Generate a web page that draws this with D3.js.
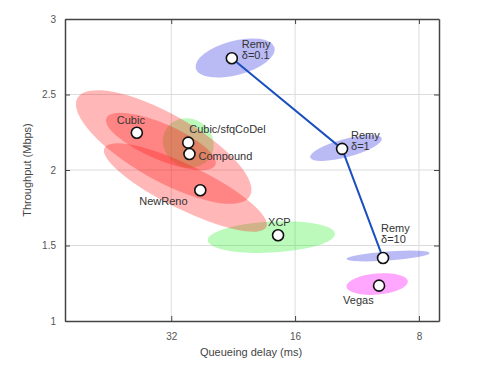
<!DOCTYPE html>
<html>
<head>
<meta charset="utf-8">
<script src="https://cdn.jsdelivr.net/npm/d3@7"></script>
<style>
  body { margin: 0; background: #fff; }
  svg { font-family: "Liberation Sans", Arial, sans-serif; }
</style>
</head>
<body>
<div id="plot"></div>
<script>
// Data
var schemes = ["Remy δ=0.1", "Remy δ=1", "Remy δ=10", "Vegas", "XCP", "NewReno", "Cubic", "Cubic/sfqCoDel", "Compound"];
var delays = [22.8, 12.3, 9.78, 10.0, 17.6, 27.2, 38.8, 29.1, 28.9];      // ms
var throughputs = [2.74, 2.14, 1.417, 1.234, 1.568, 1.866, 2.247, 2.181, 2.106]; // Mbps

var remyFrontier = ["Remy δ=0.1", "Remy δ=1", "Remy δ=10"];

// Ellipses: ends of the major axis (delay, throughput) and half minor axis in Mbps
var ellipseNames = ["Cubic/sfqCoDel", "XCP", "Remy δ=0.1", "Remy δ=1", "Remy δ=10", "Vegas", "Cubic (outer)", "Cubic", "NewReno"];
var ellipseFrom = [[32.8, 2.278], [26.1, 1.534], [27.9, 2.672], [14.7, 2.082], [12.0, 1.411], [12.0, 1.227], [54.1, 2.477], [46.0, 2.344], [46.5, 2.146]];
var ellipseTo = [[25.8, 2.080], [12.8, 1.578], [17.95, 2.812], [9.85, 2.209], [7.53, 1.450], [8.51, 1.263], [20.6, 1.828], [25.0, 2.033], [18.8, 1.622]];
var ellipseWidth = [0.159, 0.103, 0.113, 0.06, 0.03, 0.07, 0.219, 0.119, 0.146];
var ellipseGroup = ["green", "green", "blue", "blue", "blue", "magenta", "red", "red", "red"];

var xTicks = [32, 16, 8];
var yTicks = [1, 1.5, 2, 2.5, 3];

// label placement (pixels, relative to the point)
var labelOffset = {
  "Remy δ=0.1": [10, -10], "Remy δ=1": [9, -10], "Remy δ=10": [-2, -26],
  "Vegas": [-36, 18], "XCP": [-10, -9], "NewReno": [-61, 15],
  "Cubic": [-20, -9], "Cubic/sfqCoDel": [1, -10], "Compound": [9, 6]
};
var fills = { green: "#22ee22", blue: "#2828e0", magenta: "#ff00ff", red: "#ff1010" };
var fillOpacity = { green: 0.3, blue: 0.32, magenta: 0.35, red: 0.3 };

var margin = {top: 19, right: 61, bottom: 51, left: 65},
    width = 500 - margin.left - margin.right,
    height = 372 - margin.top - margin.bottom;

var svg = d3.select("#plot")
    .append("svg")
    .attr("width", 500)
    .attr("height", 372)
    .append("g")
    .attr("transform", "translate(" + margin.left + "," + margin.top + ")");

var x = d3.scaleLog()
    .domain([58, 7.15])
    .range([0, width]);
var y = d3.scaleLinear()
    .domain([1, 3])
    .range([height, 0]);

// grid
svg.append("g").selectAll("line")
    .data(xTicks)
    .enter().append("line")
    .attr("x1", function (d) { return x(d); })
    .attr("x2", function (d) { return x(d); })
    .attr("y1", 0).attr("y2", height)
    .style("stroke", "#dcdcdc");
svg.append("g").selectAll("line")
    .data(yTicks.slice(1, -1))
    .enter().append("line")
    .attr("y1", function (d) { return y(d); })
    .attr("y2", function (d) { return y(d); })
    .attr("x1", 0).attr("x2", width)
    .style("stroke", "#dcdcdc");

// ellipses
var ell = ellipseNames.map(function (n, i) {
  var x1 = x(ellipseFrom[i][0]), y1 = y(ellipseFrom[i][1]);
  var x2 = x(ellipseTo[i][0]), y2 = y(ellipseTo[i][1]);
  return {
    name: n, group: ellipseGroup[i],
    cx: (x1 + x2) / 2, cy: (y1 + y2) / 2,
    rx: Math.hypot(x2 - x1, y2 - y1) / 2,
    ry: Math.abs(y(0) - y(ellipseWidth[i])),
    angle: Math.atan2(y2 - y1, x2 - x1) * 180 / Math.PI
  };
});
svg.append("g").selectAll("ellipse")
    .data(ell)
    .enter().append("ellipse")
    .attr("transform", function (d) { return "translate(" + d.cx + "," + d.cy + ") rotate(" + d.angle + ")"; })
    .attr("rx", function (d) { return d.rx; })
    .attr("ry", function (d) { return d.ry; })
    .style("fill", function (d) { return fills[d.group]; })
    .style("fill-opacity", function (d) { return fillOpacity[d.group]; });

// Remy line
var pts = schemes.map(function (n, i) { return {name: n, delay: delays[i], thr: throughputs[i]}; });
var remyPts = pts.filter(function (d) { return remyFrontier.indexOf(d.name) >= 0; });
svg.append("path")
    .datum(remyPts)
    .attr("d", d3.line().x(function (d) { return x(d.delay); }).y(function (d) { return y(d.thr); }))
    .style("fill", "none")
    .style("stroke", "#1a4fbf")
    .style("stroke-width", 2);

// axes box + ticks
var axisColor = "#444";
svg.append("g")
    .attr("transform", "translate(0," + height + ")")
    .call(d3.axisBottom(x).tickValues(xTicks).tickFormat(d3.format("d")).tickSizeInner(-5).tickSizeOuter(0).tickPadding(12));
svg.append("g")
    .call(d3.axisTop(x).tickValues(xTicks).tickFormat("").tickSizeInner(-5).tickSizeOuter(0));
svg.append("g")
    .call(d3.axisLeft(y).tickValues(yTicks).tickFormat(d3.format("")).tickSizeInner(-5).tickSizeOuter(0).tickPadding(9));
svg.append("g")
    .attr("transform", "translate(" + width + ",0)")
    .call(d3.axisRight(y).tickValues(yTicks).tickFormat("").tickSizeInner(-5).tickSizeOuter(0));
svg.selectAll(".domain").style("stroke", axisColor).style("stroke-width", 1.5);
svg.selectAll(".tick line").style("stroke", axisColor);
svg.selectAll(".tick text").style("fill", "#555").style("font-size", "10px")
    .style("font-family", "'Liberation Sans', Arial, sans-serif");

// points
svg.append("g").selectAll("circle")
    .data(pts)
    .enter().append("circle")
    .attr("cx", function (d) { return x(d.delay); })
    .attr("cy", function (d) { return y(d.thr); })
    .attr("r", 5.5)
    .style("fill", "#fff")
    .style("stroke", "#111")
    .style("stroke-width", 1.6);

// labels
var lab = svg.append("g").selectAll("text")
    .data(pts)
    .enter().append("text")
    .attr("x", function (d) { return x(d.delay) + labelOffset[d.name][0]; })
    .attr("y", function (d) { return y(d.thr) + labelOffset[d.name][1]; })
    .style("font-size", "11px")
    .style("fill", "#333");
lab.each(function (d) {
  var parts = d.name.indexOf("Remy") === 0 ? d.name.split(" ") : [d.name];
  var t = d3.select(this);
  parts.forEach(function (p, k) {
    t.append("tspan").attr("x", t.attr("x")).attr("dy", k === 0 ? 0 : 11).text(p);
  });
});

// axis titles
svg.append("text")
    .attr("x", width / 2 - 1)
    .attr("y", height + 35)
    .attr("text-anchor", "middle")
    .style("font-size", "11px")
    .style("fill", "#444")
    .text("Queueing delay (ms)");
svg.append("text")
    .attr("transform", "translate(-34," + (height / 2) + ") rotate(-90)")
    .attr("text-anchor", "middle")
    .style("font-size", "11px")
    .style("fill", "#444")
    .text("Throughput (Mbps)");
</script>
</body>
</html>
